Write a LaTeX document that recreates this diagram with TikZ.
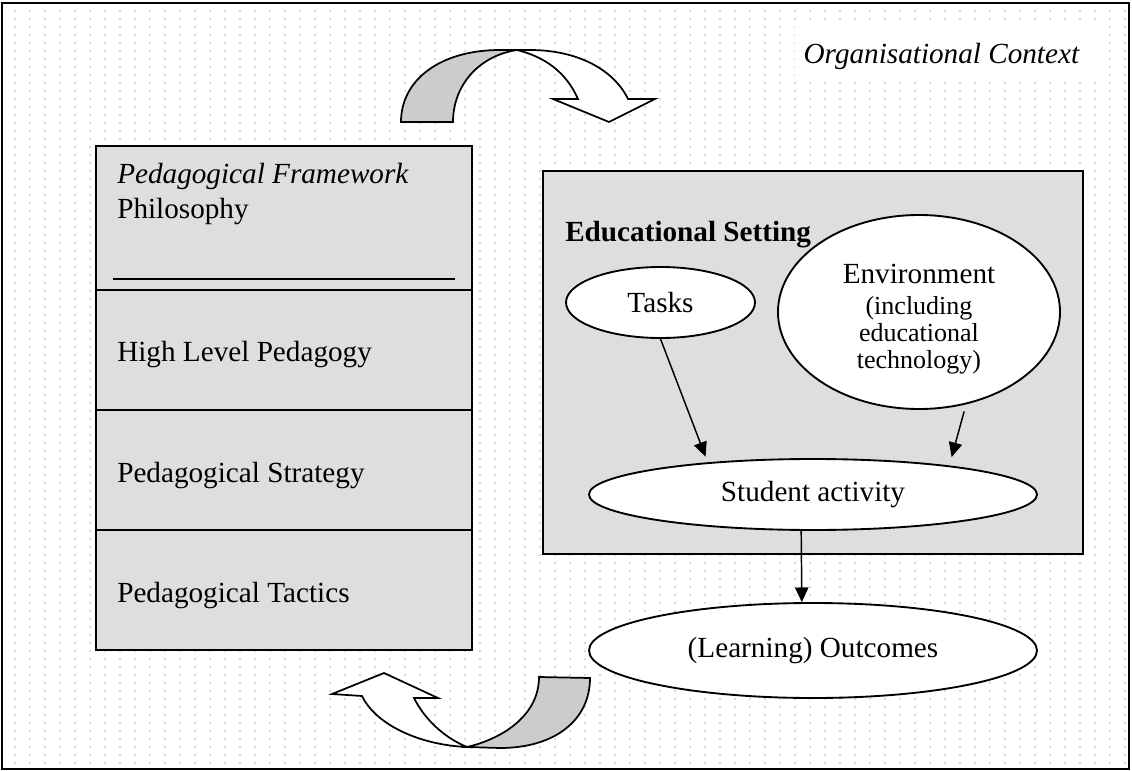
\documentclass[tikz,border=0pt]{standalone}
\usepackage{fontspec}
\setmainfont{Liberation Serif}
\usetikzlibrary{shapes.geometric,arrows.meta,patterns.meta}

\definecolor{shadegray}{gray}{0.87}
\definecolor{dotgray}{gray}{0.70}
\definecolor{backgray}{gray}{0.80}

\tikzdeclarepattern{
  name=sparsedots,
  type=uncolored,
  bounding box={(-1pt,-1pt) and (1pt,1pt)},
  tile size={(11.25pt,6pt)},
  code={\pgfpathcircle{\pgfpointorigin}{0.6pt}\pgfusepath{fill}}
}

\tikzset{
  txt/.style={anchor=base west, inner sep=0pt, font=\fontsize{21.9}{26}\selectfont},
  oval/.style={draw, ellipse, line width=1.4pt, fill=white, inner sep=0pt, font=\fontsize{21.9}{26}\selectfont},
  flow/.style={-{Triangle[length=11pt,width=10pt]}, line width=1.1pt},
  uturn/.style={draw, line width=1.3pt, line join=miter},
}

\begin{document}
\begin{tikzpicture}[x=0.75pt,y=0.75pt,yscale=-1,xscale=1]
        \useasboundingbox (0,0) rectangle (1132,771);
        %Shape: Rectangle [id:outer]
        \fill[white] (2,3) rectangle (1129,769);
        \fill[pattern=sparsedots, pattern color=dotgray] (2,3) rectangle (1129,769);
        \draw[line width=1.5pt] (2,3) rectangle (1129,769);
        %Shape: Rectangle [id:orgbox]
        \fill[white] (795,20) rectangle (1108,76);
        % Text Node
        \draw (1080,63) node[txt, anchor=base east] (orgctx) {\textit{Organisational Context}};

        %Shape: Rectangle [id:levels]
        \draw[fill=shadegray, line width=1.3pt] (96,290) rectangle (472,650);
        %Straight Lines [id:divider1]
        \draw[line width=1.3pt] (96,410) -- (472,410) (96,530) -- (472,530);
        %Shape: Rectangle [id:framework]
        \draw[fill=shadegray, line width=2pt] (96,146) rectangle (472,290);
        %Straight Lines [id:underline]
        \draw[line width=1.3pt] (113,279) -- (455,279);
        % Text Node
        \draw (117,183) node[txt] (framework) {\textit{Pedagogical Framework}};
        % Text Node
        \draw (117,218) node[txt] (philosophy) {Philosophy};
        % Text Node
        \draw (117,361) node[txt] (highlevel) {High Level Pedagogy};
        % Text Node
        \draw (117,482) node[txt] (strategy) {Pedagogical Strategy};
        % Text Node
        \draw (117,602) node[txt] (tactics) {Pedagogical Tactics};

        %Shape: Rectangle [id:setting]
        \draw[fill=shadegray, line width=1.3pt] (543,171) rectangle (1083,554);
        % Text Node
        \draw (565,241) node[txt] (setting) {\textbf{Educational Setting}};

        %Shape: Ellipse [id:tasks]
        \node[oval, minimum width=141.75pt, minimum height=53.25pt] (tasks) at (660.5,302.5) {Tasks};
        %Shape: Ellipse [id:environment]
        \node[oval, minimum width=211.5pt, minimum height=145.5pt] (environment) at (919,312) {};
        % Text Node
        \draw (919,283) node[txt, anchor=base] (envtitle) {Environment};
        % Text Node
        \draw (919,335.5) node[inner sep=0pt, align=center, font=\fontsize{19.5}{20.25}\selectfont] (envnote) {(including\\educational\\technology)};
        %Shape: Ellipse [id:activity]
        \node[oval, minimum width=336pt, minimum height=53.25pt] (activity) at (813,494.5) {Student activity};
        %Shape: Ellipse [id:outcomes]
        \node[oval, minimum width=336pt, minimum height=71.25pt] (outcomes) at (813,650.5) {(Learning) Outcomes};

        %Straight Lines [id:tasks2activity]
        \draw[flow, shorten >=4.5pt] (tasks.south) -- (activity.163.4);
        %Straight Lines [id:env2activity]
        \draw[flow, shorten <=5.5pt, shorten >=6.5pt] (environment.297.2) -- (activity.12.5);
        %Straight Lines [id:activity2outcomes]
        \draw[flow] (activity.252.8) -- (outcomes.103.05);

        %Shape: Curved Down Arrow [id:topback]
        \draw[uturn, fill=backgray] (401,122) .. controls (401,80) and (440,50) .. (500,50) -- (517,50) .. controls (478,56) and (453,86) .. (453,122) -- cycle;
        %Shape: Curved Down Arrow [id:topfront]
        \draw[uturn, fill=white] (517,50) -- (530,50) .. controls (578,50) and (614,70) .. (628,99) -- (655,99) -- (609,122) -- (553,99) -- (578,99) .. controls (566,72) and (545,57) .. (517,50) -- cycle;
        %Shape: Curved Up Arrow [id:bottomback]
        \draw[uturn, fill=backgray] (539,677) -- (590,678) .. controls (590,720) and (555,748) .. (500,748) -- (467,747) .. controls (505,738) and (539,714) .. (539,677) -- cycle;
        %Shape: Curved Up Arrow [id:bottomfront]
        \draw[uturn, fill=white] (467,747) .. controls (420,745) and (376,725) .. (362,696) -- (332,694) -- (384,673) -- (438,698) -- (414,698) .. controls (425,720) and (445,738) .. (467,747) -- cycle;
\end{tikzpicture}
\end{document}
